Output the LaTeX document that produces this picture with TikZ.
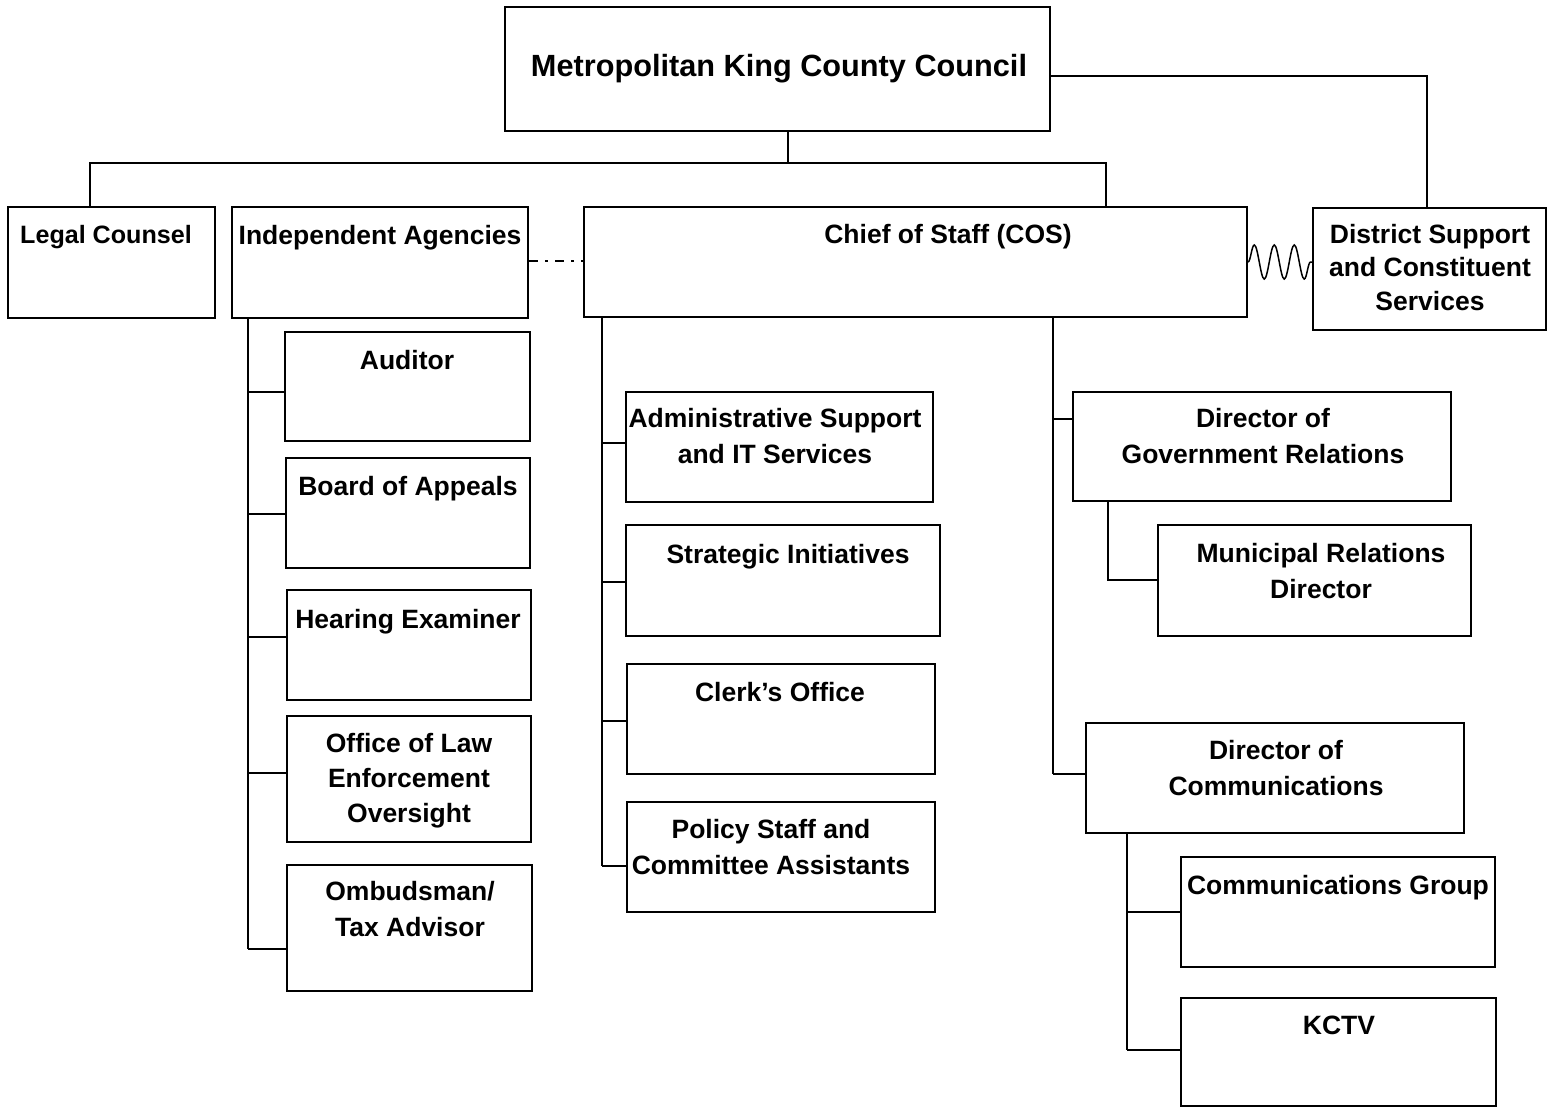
\documentclass[tikz,border=0pt]{standalone}
\usepackage{fontspec}
\setmainfont{Liberation Sans}
\usetikzlibrary{fit,decorations.pathmorphing}
\tikzset{
  box/.style={draw=black, line width=2bp, inner sep=0pt, fill=white},
  txt/.style={anchor=north, inner sep=0pt, align=center,
    font=\bfseries\fontsize{26.6}{36}\selectfont},
  ttl/.style={anchor=north, inner sep=0pt, align=center,
    font=\bfseries\fontsize{30.8}{36}\selectfont},
  conn/.style={draw=black, line width=1.8bp},
  dashdot/.style={draw=black, line width=2bp, dash pattern=on 9bp off 7bp on 3bp off 7bp},
  wave/.style={draw=black, line width=1.5bp, decorate,
    decoration={snake, amplitude=17bp, segment length=20bp, post length=1bp}}
}
\begin{document}
\begin{tikzpicture}[x=1bp, y=-1bp]
\useasboundingbox (0,0) rectangle (1558,1108);
% boxes
\node[box, fit={(505,7) (1050,131)}] (top) {};
\node[box, fit={(8,207) (215,318)}] (legal) {};
\node[box, fit={(232,207) (528,318)}] (ia) {};
\node[box, fit={(584,207) (1247,317)}] (cos) {};
\node[box, fit={(1313,208) (1546,330)}] (dist) {};
\node[box, fit={(285,332) (530,441)}] (aud) {};
\node[box, fit={(286,458) (530,568)}] (boa) {};
\node[box, fit={(287,590) (531,700)}] (hear) {};
\node[box, fit={(287,716) (531,842)}] (oleo) {};
\node[box, fit={(287,865) (532,991)}] (omb) {};
\node[box, fit={(626,392) (933,502)}] (adm) {};
\node[box, fit={(626,525) (940,636)}] (strat) {};
\node[box, fit={(627,664) (935,774)}] (clerk) {};
\node[box, fit={(627,802) (935,912)}] (pol) {};
\node[box, fit={(1073,392) (1451,501)}] (dgr) {};
\node[box, fit={(1158,525) (1471,636)}] (muni) {};
\node[box, fit={(1086,723) (1464,833)}] (dcom) {};
\node[box, fit={(1181,857) (1495,967)}] (cgrp) {};
\node[box, fit={(1181,998) (1496,1106)}] (kctv) {};
% texts
\node[ttl] (top-t) at (779,54.5) {Metropolitan King County Council};
\node[txt, font=\bfseries\fontsize{25.2}{36}\selectfont] (legal-t) at (106,225.5) {Legal Counsel};
\node[txt] (ia-t) at (380,225) {Independent Agencies};
\node[txt] (cos-t) at (948,224) {Chief of Staff (COS)};
\node[txt, font=\bfseries\fontsize{26.6}{33.5}\selectfont] (dist-t) at (1430,224) {District Support\\and Constituent\\Services};
\node[txt] (aud-t) at (407,350) {Auditor};
\node[txt] (boa-t) at (408,476) {Board of Appeals};
\node[txt] (hear-t) at (408,609) {Hearing Examiner};
\node[txt, font=\bfseries\fontsize{26.6}{35}\selectfont] (oleo-t) at (409,733) {Office of Law\\Enforcement\\Oversight};
\node[txt] (omb-t) at (410,881) {Ombudsman/\\Tax Advisor};
\node[txt] (adm-t) at (775,408) {Administrative Support\\and IT Services};
\node[txt] (strat-t) at (788,544) {Strategic Initiatives};
\node[txt] (clerk-t) at (780,682) {Clerk’s Office};
\node[txt] (pol-t) at (771,819) {Policy Staff and\\Committee Assistants};
\node[txt] (dgr-t) at (1263,408) {Director of\\Government Relations};
\node[txt] (muni-t) at (1321,543) {Municipal Relations\\Director};
\node[txt] (dcom-t) at (1276,740) {Director of\\Communications};
\node[txt] (cgrp-t) at (1338,875) {Communications Group};
\node[txt] (kctv-t) at (1339,1016) {KCTV};
% connector points
\coordinate (j) at (788,163);
\coordinate (busL) at (90,163);
\coordinate (busR) at (1106,163);
\coordinate (rt) at (1427,76);
\coordinate (a1) at (248,392);
\coordinate (a2) at (248,514);
\coordinate (a3) at (248,637);
\coordinate (a4) at (248,773);
\coordinate (a5) at (248,949);
\coordinate (c1) at (602,443);
\coordinate (c2) at (602,582);
\coordinate (c3) at (602,721);
\coordinate (c4) at (602,866);
\coordinate (r1) at (1053,419);
\coordinate (r2) at (1053,774);
\coordinate (g1) at (1108,580);
\coordinate (m1) at (1127,912);
\coordinate (m2) at (1127,1050);
% connectors
\draw[conn] (top.south -| j) -- (j);
\draw[conn] (legal.north -| busL) -- (busL) -- (busR) -- (cos.north -| busR);
\draw[conn] (top.east |- rt) -- (rt) -- (dist.north -| rt);
\draw[dashdot] (ia.east |- 0,261) -- (cos.west |- 0,261);
\draw[wave] (cos.east |- 0,262) -- (dist.west |- 0,262);
\draw[conn] (ia.south -| a1) -- (a5);
\draw[conn] (a1) -- (aud.west |- a1);
\draw[conn] (a2) -- (boa.west |- a2);
\draw[conn] (a3) -- (hear.west |- a3);
\draw[conn] (a4) -- (oleo.west |- a4);
\draw[conn] (a5) -- (omb.west |- a5);
\draw[conn] (cos.south -| c1) -- (c4);
\draw[conn] (c1) -- (adm.west |- c1);
\draw[conn] (c2) -- (strat.west |- c2);
\draw[conn] (c3) -- (clerk.west |- c3);
\draw[conn] (c4) -- (pol.west |- c4);
\draw[conn] (cos.south -| r1) -- (r2);
\draw[conn] (r1) -- (dgr.west |- r1);
\draw[conn] (r2) -- (dcom.west |- r2);
\draw[conn] (dgr.south -| g1) -- (g1) -- (muni.west |- g1);
\draw[conn] (dcom.south -| m1) -- (m2);
\draw[conn] (m1) -- (cgrp.west |- m1);
\draw[conn] (m2) -- (kctv.west |- m2);
\end{tikzpicture}
\end{document}
